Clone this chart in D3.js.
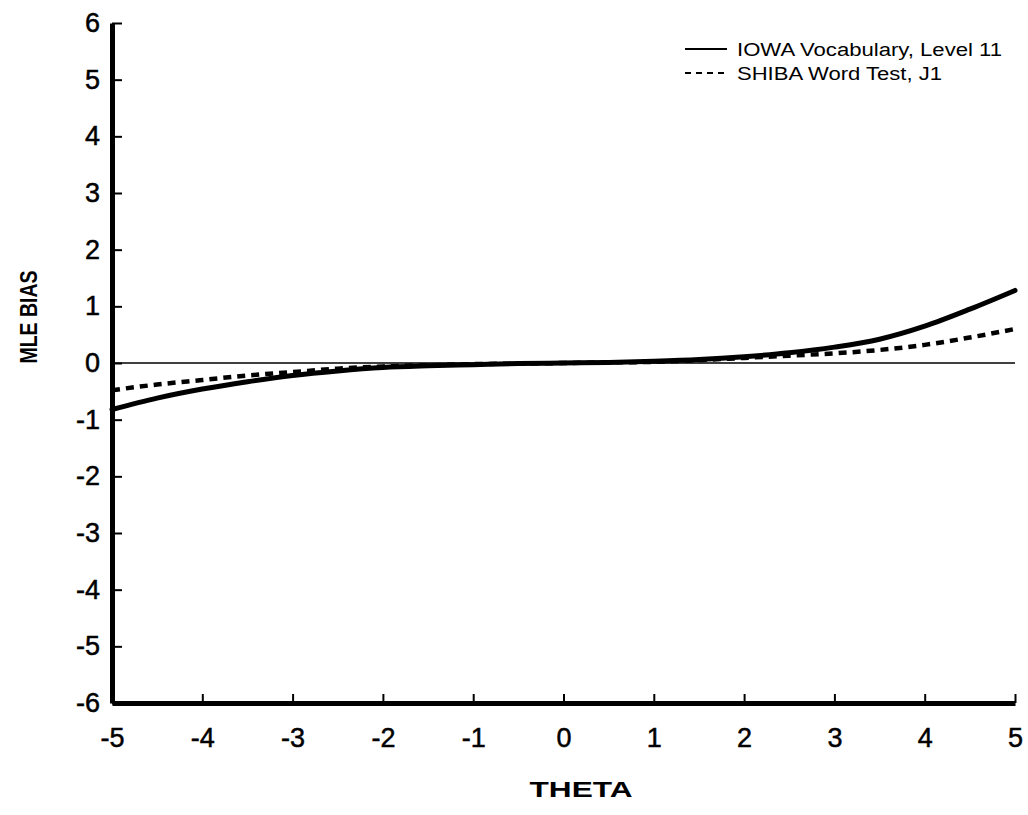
<!DOCTYPE html>
<html>
<head>
<meta charset="utf-8">
<script src="https://cdn.jsdelivr.net/npm/d3@7"></script>
<style>
  html, body { margin: 0; padding: 0; background: #fff; }
  svg { display: block; font-family: "Liberation Sans", Arial, Helvetica, sans-serif; }
</style>
</head>
<body>
<svg id="chart" width="1028" height="815"></svg>
<script>
// ---- data ----
const theta = [-5, -4.5, -4, -3.5, -3, -2.5, -2, -1.5, -1, -0.5, 0, 0.5, 1, 1.5, 2, 2.5, 3, 3.5, 4, 4.5, 5];
const iowaBias = [-0.82, -0.62, -0.46, -0.33, -0.22, -0.14, -0.08, -0.05, -0.03, -0.01, 0.0, 0.01, 0.03, 0.06, 0.11, 0.18, 0.28, 0.42, 0.65, 0.95, 1.28];
const shibaBias = [-0.48, -0.38, -0.30, -0.22, -0.16, -0.10, -0.06, -0.04, -0.02, -0.01, 0.0, 0.01, 0.02, 0.05, 0.09, 0.13, 0.17, 0.23, 0.32, 0.45, 0.60];
const xTicks = [-5, -4, -3, -2, -1, 0, 1, 2, 3, 4, 5];
const yTicks = [-6, -5, -4, -3, -2, -1, 0, 1, 2, 3, 4, 5, 6];
const seriesNames = ["IOWA Vocabulary, Level 11", "SHIBA Word Test, J1"];
const xTitle = "THETA";
const yTitle = "MLE BIAS";

// ---- layout ----
const svg = d3.select("#chart");
const x = d3.scaleLinear().domain([-5, 5]).range([112, 1015]);
const y = d3.scaleLinear().domain([-6, 6]).range([703, 23]);
const fmt = d => String(d); // plain hyphen-minus like the original

// zero reference line
svg.append("line")
  .attr("x1", x(-5)).attr("x2", x(5))
  .attr("y1", y(0)).attr("y2", y(0))
  .attr("stroke", "#000").attr("stroke-width", 1.6);

// x axis
const xAxis = d3.axisBottom(x).tickValues(xTicks).tickFormat(fmt).tickSizeOuter(0).tickSizeInner(-9).tickPadding(25);
const gx = svg.append("g").attr("transform", `translate(0,${y(-6)})`).call(xAxis);
gx.select(".domain").attr("stroke", "#000").attr("stroke-width", 5);
gx.selectAll(".tick line").attr("stroke", "#000").attr("stroke-width", 2);
gx.selectAll(".tick text").attr("font-size", 27).attr("fill", "#000")
  .attr("stroke", "#000").attr("stroke-width", 0.5);

// y axis
const yAxis = d3.axisLeft(y).tickValues(yTicks).tickFormat(fmt).tickSizeOuter(0).tickSizeInner(-10).tickPadding(12);
const gy = svg.append("g").attr("transform", `translate(${x(-5)},0)`).call(yAxis);
gy.select(".domain").attr("stroke", "#000").attr("stroke-width", 5);
gy.selectAll(".tick line").attr("stroke", "#000").attr("stroke-width", 2);
gy.selectAll(".tick text").attr("font-size", 27).attr("fill", "#000")
  .attr("stroke", "#000").attr("stroke-width", 0.5);

// curves
const line = d3.line().x(d => x(d[0])).y(d => y(d[1])).curve(d3.curveMonotoneX);
svg.append("path")
  .datum(theta.map((t, i) => [t, iowaBias[i]]))
  .attr("d", line).attr("fill", "none").attr("stroke", "#000")
  .attr("stroke-width", 5).attr("stroke-linecap", "round");
svg.append("path")
  .datum(theta.map((t, i) => [t, shibaBias[i]]))
  .attr("d", line).attr("fill", "none").attr("stroke", "#000")
  .attr("stroke-width", 4.5).attr("stroke-dasharray", "8,6").attr("stroke-linecap", "butt");

// legend
const legendLens = [265, 205];
const lg = svg.append("g");
[0, 1].forEach(i => {
  const yy = 49 + i * 24;
  lg.append("line").attr("x1", 685).attr("x2", 727).attr("y1", yy).attr("y2", yy)
    .attr("stroke", "#000").attr("stroke-width", 2.2)
    .attr("stroke-dasharray", i === 1 ? "6,5" : null);
  lg.append("text").attr("x", 737).attr("y", yy + 7)
    .attr("font-size", 18).attr("fill", "#000")
    .attr("textLength", legendLens[i]).attr("lengthAdjust", "spacingAndGlyphs")
    .text(seriesNames[i]);
});

// axis titles
svg.append("text").attr("x", 581).attr("y", 797).attr("text-anchor", "middle")
  .attr("font-size", 22).attr("font-weight", "bold")
  .attr("textLength", 103).attr("lengthAdjust", "spacingAndGlyphs").text(xTitle);
svg.append("text").attr("transform", "translate(37,317) scale(1.25,1) rotate(-90)").attr("text-anchor", "middle")
  .attr("font-size", 19.5).attr("font-weight", "bold").text(yTitle);
</script>
</body>
</html>
